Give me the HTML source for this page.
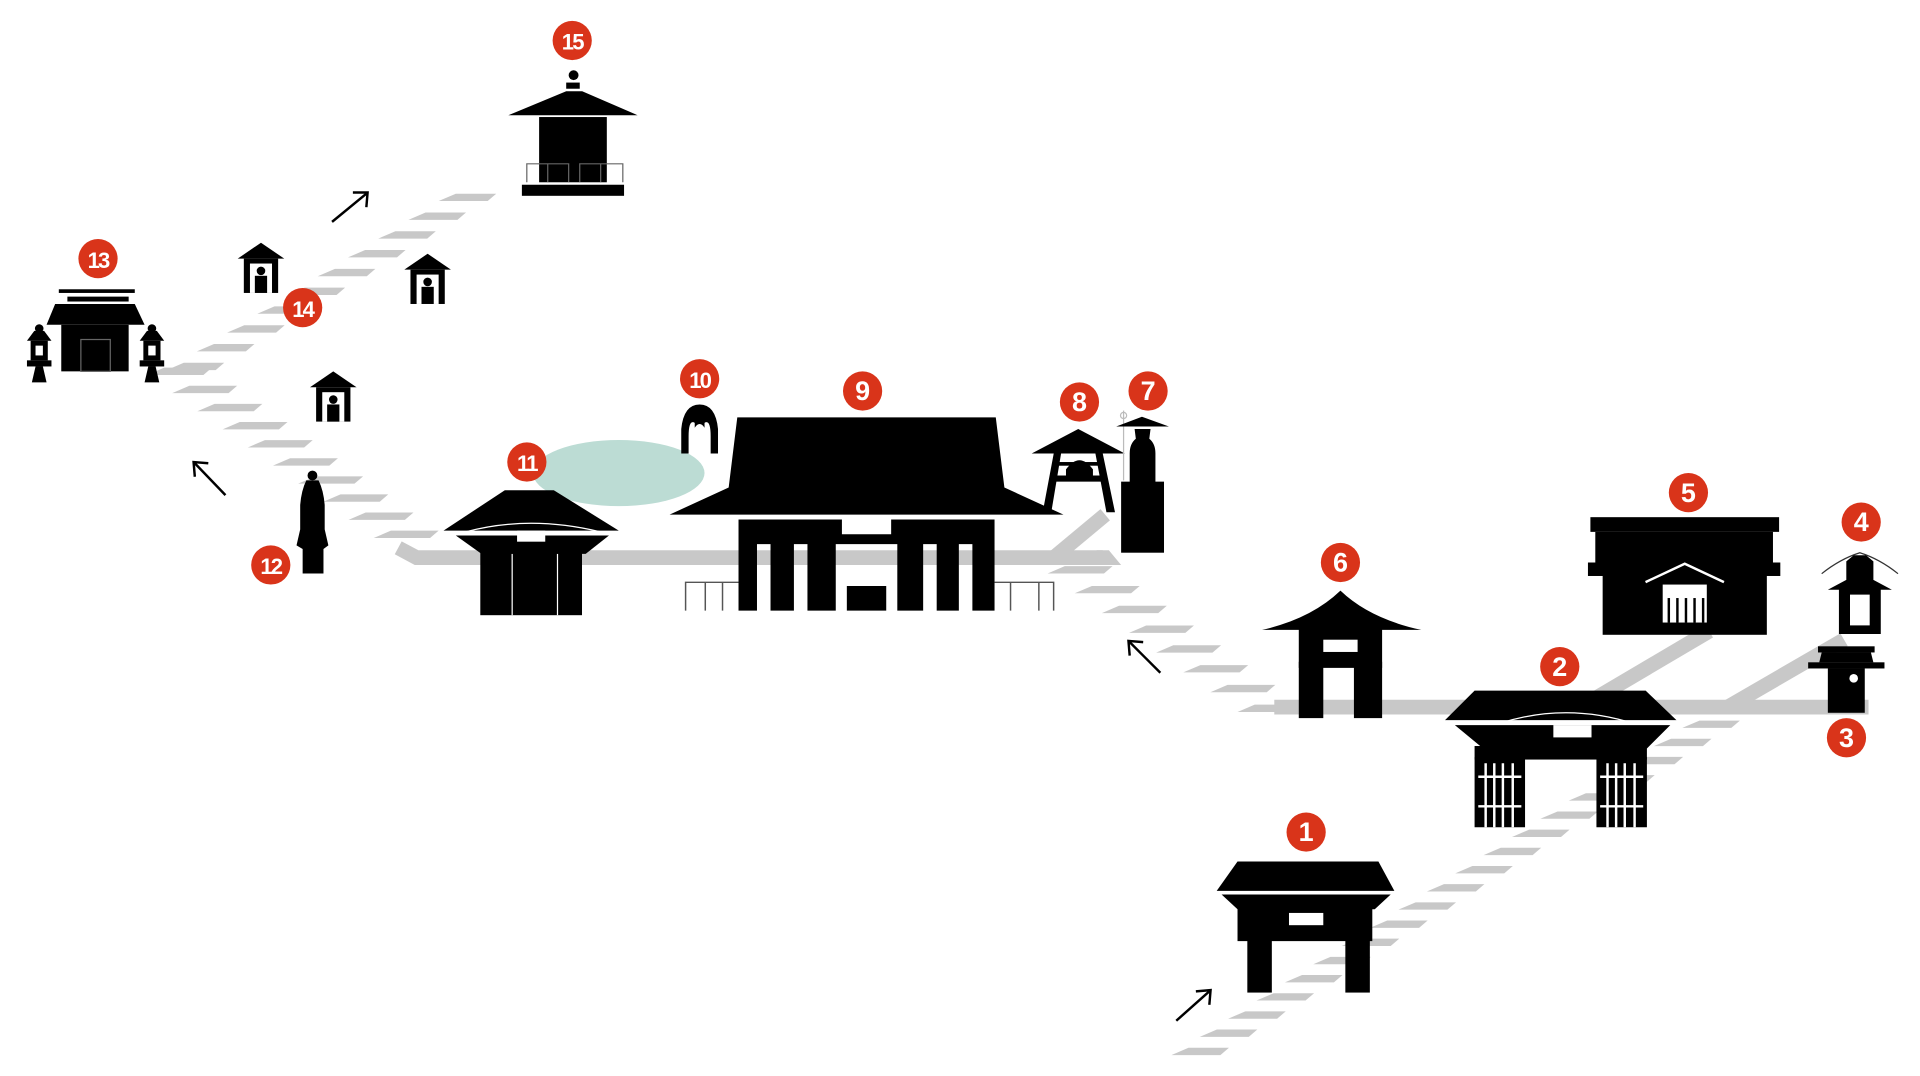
<!DOCTYPE html>
<html><head><meta charset="utf-8"><style>
html,body{margin:0;padding:0;background:#fff;}
svg{display:block}
.b text{font-family:"Liberation Sans",sans-serif;font-weight:bold;fill:#fff;text-anchor:middle;}
</style></head><body>
<svg id="s" width="1920" height="1076" viewBox="0 0 1567 878" xmlns="http://www.w3.org/2000/svg">
<g id="stripes" fill="#c8c8c8"></g>
<g stroke="#c8c8c8" stroke-width="12" fill="none">
<line x1="1040" y1="577" x2="1525" y2="577"/>
<line x1="1290" y1="577" x2="1395" y2="515"/>
<line x1="1410" y1="577" x2="1505" y2="522"/>
<polyline points="325,447 340,455 900,455"/>
<line x1="860" y1="455" x2="902" y2="420"/>
</g>
<polygon points="895,449 905,449 915,461 895,461" fill="#c8c8c8"/>
<ellipse cx="505" cy="386" rx="70" ry="27" fill="#bcdcd4"/>
<g fill="#000">
<!-- Gate 1 -->
<polygon points="1010,703 1125,703 1138,727 993,727"/>
<polygon points="997,730 1135,730 1122,742 1010,742"/>
<rect x="1010" y="740" width="110" height="28"/>
<rect x="1018" y="766" width="20" height="44"/>
<rect x="1098" y="766" width="20" height="44"/>
<rect x="1052" y="745" width="28" height="10" fill="#fff"/>
<g transform="scale(1.00457)">
<!-- Gate 2 -->
<polygon points="1198,561 1337,561 1362,585 1174,585"/>
<polygon points="1182,589 1357,589 1338,608 1205,608"/>
<rect x="1198" y="606" width="140" height="11"/>
<rect x="1198" y="615" width="41" height="57"/>
<rect x="1297" y="615" width="41" height="57"/>
<rect x="1262" y="589" width="31" height="10" fill="#fff"/>
<path d="M1217,588 Q1272,570 1328,588" stroke="#fff" stroke-width="1" fill="none"/>
<g stroke="#fff" stroke-width="2">
<line x1="1207" y1="620" x2="1207" y2="672"/><line x1="1214" y1="620" x2="1214" y2="672"/><line x1="1221" y1="620" x2="1221" y2="672"/><line x1="1229" y1="620" x2="1229" y2="672"/>
<line x1="1306" y1="620" x2="1306" y2="672"/><line x1="1313" y1="620" x2="1313" y2="672"/><line x1="1320" y1="620" x2="1320" y2="672"/><line x1="1328" y1="620" x2="1328" y2="672"/>
<line x1="1201" y1="631" x2="1236" y2="631"/><line x1="1201" y1="655" x2="1236" y2="655"/>
<line x1="1300" y1="631" x2="1335" y2="631"/><line x1="1300" y1="655" x2="1335" y2="655"/>
</g>
<!-- Lantern 3 -->
<rect x="1477" y="525" width="46" height="5"/>
<polygon points="1480,530 1520,530 1522,538 1478,538"/>
<rect x="1469" y="538" width="62" height="5"/>
<rect x="1485" y="543" width="30" height="36"/>
<circle cx="1506" cy="551" r="3.5" fill="#fff"/>
<!-- Lantern 4 -->
<path d="M1480,466 Q1495,454 1511,449 Q1527,454 1542,466" stroke="#333" stroke-width="1" fill="none"/>
<polygon points="1506,451 1516,451 1522,456 1522,471 1537,479 1485,479 1500,471 1500,456"/>
<rect x="1494" y="478" width="34" height="37"/>
<rect x="1503" y="483" width="16" height="25" fill="#fff"/>
<!-- Main hall 9 -->
<polygon points="599,339 809,339 816,396 864,418 544,418 592,396"/>
<path d="M600,422 L684,422 L684,434 L724,434 L724,422 L808,422 L808,496 L790,496 L790,442 L779,442 L779,496 L761,496 L761,442 L750,442 L750,496 L729,496 L729,442 L679,442 L679,496 L656,496 L656,442 L645,442 L645,496 L626,496 L626,442 L615,442 L615,496 L600,496 Z"/>
<rect x="688" y="476" width="32" height="20"/>
<g stroke="#555" stroke-width="1.2" fill="none">
<polyline points="557,496 557,473 600,473"/><line x1="573" y1="473" x2="573" y2="496"/><line x1="587" y1="473" x2="587" y2="496"/>
<polyline points="808,473 856,473 856,496"/><line x1="821" y1="473" x2="821" y2="496"/><line x1="844" y1="473" x2="844" y2="496"/>
</g>
<!-- Pagoda 15 -->
<circle cx="466" cy="61" r="4"/>
<rect x="460" y="67" width="11" height="5"/>
<polygon points="460,74 473,74 518,93.5 413,93.5"/>
<rect x="438" y="95" width="55" height="53"/>
<rect x="424" y="150" width="83" height="9"/>
<g stroke="#666" stroke-width="1" fill="none">
<polyline points="428,148 428,133 462,133 462,148"/><line x1="445" y1="133" x2="445" y2="148"/>
<polyline points="471,148 471,133 506,133 506,148"/><line x1="488" y1="133" x2="488" y2="148"/>
</g>
</g>
<!-- Building 5 -->
<rect x="1298" y="422" width="154" height="12"/>
<rect x="1302" y="434" width="145" height="27"/>
<rect x="1296" y="459" width="157" height="11"/>
<rect x="1308" y="468" width="134" height="50"/>
<polyline points="1343,475 1375,460 1407,475" stroke="#fff" stroke-width="2" fill="none"/>
<rect x="1357" y="477" width="36" height="31" fill="#fff"/>
<g stroke="#000" stroke-width="2"><line x1="1362" y1="488" x2="1362" y2="508"/><line x1="1369" y1="488" x2="1369" y2="508"/><line x1="1376" y1="488" x2="1376" y2="508"/><line x1="1383" y1="488" x2="1383" y2="508"/><line x1="1390" y1="488" x2="1390" y2="508"/></g>
<!-- Gate 6 -->
<path d="M1030,514 Q1070,505 1094,482 Q1118,505 1160,514 Z"/>
<rect x="1060" y="512" width="68" height="33"/>
<rect x="1060" y="540" width="20" height="46"/>
<rect x="1105" y="540" width="23" height="46"/>
<rect x="1080" y="522" width="28" height="10" fill="#fff"/>
<!-- Bell 8 -->
<polygon points="880,350 918,370 842,370"/>
<polygon points="860,370 866,370 858,418 851,418"/>
<polygon points="894,370 900,370 910,418 903,418"/>
<rect x="858" y="388" width="45" height="5"/>
<path d="M870,390 L870,383 Q881,368 892,383 L892,390 Z"/>
<rect x="860" y="377" width="40" height="3"/>
<!-- Statue 7 -->
<line x1="917" y1="335" x2="917" y2="392" stroke="#bbb" stroke-width="1"/>
<circle cx="917" cy="339" r="2.5" fill="none" stroke="#bbb" stroke-width="1"/>
<polygon points="932,340 954,348 911,348"/>
<path d="M926,350 L939,350 L938,358 Q943,362 943,370 L943,395 L922,395 L922,370 Q922,362 927,358 Z"/>
<rect x="915" y="393" width="35" height="58"/>
<!-- Shrine 10 -->
<path d="M556,370 L556,350 Q558,330 571,330 Q584,330 586,350 L586,370 L580,370 L580,356 Q580,342 575,345 L575,349 Q571,343 567,349 L567,345 Q562,342 562,356 L562,370 Z"/>
<!-- Building 11 -->
<polygon points="412,400 452,400 505,433 362,433"/>
<polygon points="372,437 497,437 478,452 393,452"/>
<rect x="392" y="450" width="83" height="52"/>
<rect x="422" y="433" width="23" height="9" fill="#fff"/>
<path d="M380,434 Q432,420 490,434" stroke="#fff" stroke-width="1" fill="none"/>
<line x1="418" y1="452" x2="418" y2="502" stroke="#fff" stroke-width="1"/>
<line x1="455" y1="452" x2="455" y2="502" stroke="#fff" stroke-width="1"/>
<!-- Statue 12 -->
<circle cx="255" cy="388" r="4"/>
<path d="M250,392 L260,392 Q264,400 265,412 L265,432 L268,445 L264,448 L264,468 L247,468 L247,448 L242,445 L245,432 L245,412 Q246,400 250,392 Z"/>
<!-- Building 13 -->
<rect x="48" y="236" width="62" height="3"/>
<rect x="55" y="242" width="50" height="4"/>
<polygon points="45,248 110,248 118,265 38,265"/>
<rect x="50" y="265" width="55" height="38"/>
<rect x="66" y="277" width="24" height="26" fill="none" stroke="#666" stroke-width="1"/>
<!-- lanterns -->
<g id="lan">
<circle cx="32" cy="268" r="3.5"/>
<polygon points="28,270 36,270 42,278 22,278"/>
<rect x="25" y="278" width="14" height="16"/>
<rect x="29" y="282" width="6" height="8" fill="#fff"/>
<rect x="22" y="294" width="20" height="5"/>
<polygon points="29,299 35,299 38,312 26,312"/>
</g>
<use href="#lan" x="92"/>
<!-- Small shrines 14 -->
<g id="sh">
<polygon points="213,198 232,211 194,211"/>
<rect x="199" y="211" width="28" height="28"/>
<rect x="204" y="215" width="18" height="24" fill="#fff"/>
<circle cx="213" cy="221" r="3.5"/>
<rect x="208" y="225" width="10" height="14"/>
</g>
<use href="#sh" x="136" y="9"/>
<use href="#sh" x="59" y="105"/>
</g>
<!-- arrows -->
<g stroke="#000" stroke-width="2" fill="none">
<line x1="960" y1="833" x2="987" y2="809"/><polyline points="976,809 988,808 987,820"/>
<line x1="947" y1="549" x2="922" y2="524"/><polyline points="922,535 921,523 933,524"/>
<line x1="184" y1="404" x2="159" y2="378"/><polyline points="159,389 158,377 170,378"/>
<line x1="271" y1="181" x2="299" y2="158"/><polyline points="288,157 300,157 299,169"/>
</g>
<!-- badges -->
<g class="b" id="badges"></g>
</svg>
<script>
var NS="http://www.w3.org/2000/svg";
var sg=document.getElementById("stripes");
function stripes(x0,y0,x1,y1,n,w){
 for(var i=0;i<n;i++){
  var t=i/(n-1),cx=x0+(x1-x0)*t,cy=y0+(y1-y0)*t;
  var p=document.createElementNS(NS,"polygon");
  var h=6,s=7;
  p.setAttribute("points",(cx-w/2+s)+","+cy+" "+(cx+w/2)+","+cy+" "+(cx+w/2-s)+","+(cy+h)+" "+(cx-w/2-s)+","+(cy+h));
  sg.appendChild(p);
 }
}
stripes(983,855,1400,588,19,40);
stripes(1040,575,885,462,8,46);
stripes(335,433,150,300,10,46);
stripes(163,296,385,158,10,40);
var bg=document.getElementById("badges");
var B=[[1,1066,679],[2,1273,544],[3,1507,602],[4,1519,426],[5,1378,402],[6,1094,459],[7,937,319],[8,881,328],[9,704,319],[10,571,309],[11,430,377],[12,221,461],[13,80,211],[14,247,251],[15,467,33]];
B.forEach(function(b){
 var c=document.createElementNS(NS,"circle");c.setAttribute("cx",b[1]);c.setAttribute("cy",b[2]);c.setAttribute("r",16);c.setAttribute("fill","#d9341a");bg.appendChild(c);
 var t=document.createElementNS(NS,"text");t.setAttribute("x",b[1]);t.setAttribute("y",b[2]+7.5);
 t.setAttribute("font-size",b[0]>9?18:22);if(b[0]>9)t.setAttribute("letter-spacing","-1.5");
 t.textContent=b[0];bg.appendChild(t);
});
</script>
</body></html>
